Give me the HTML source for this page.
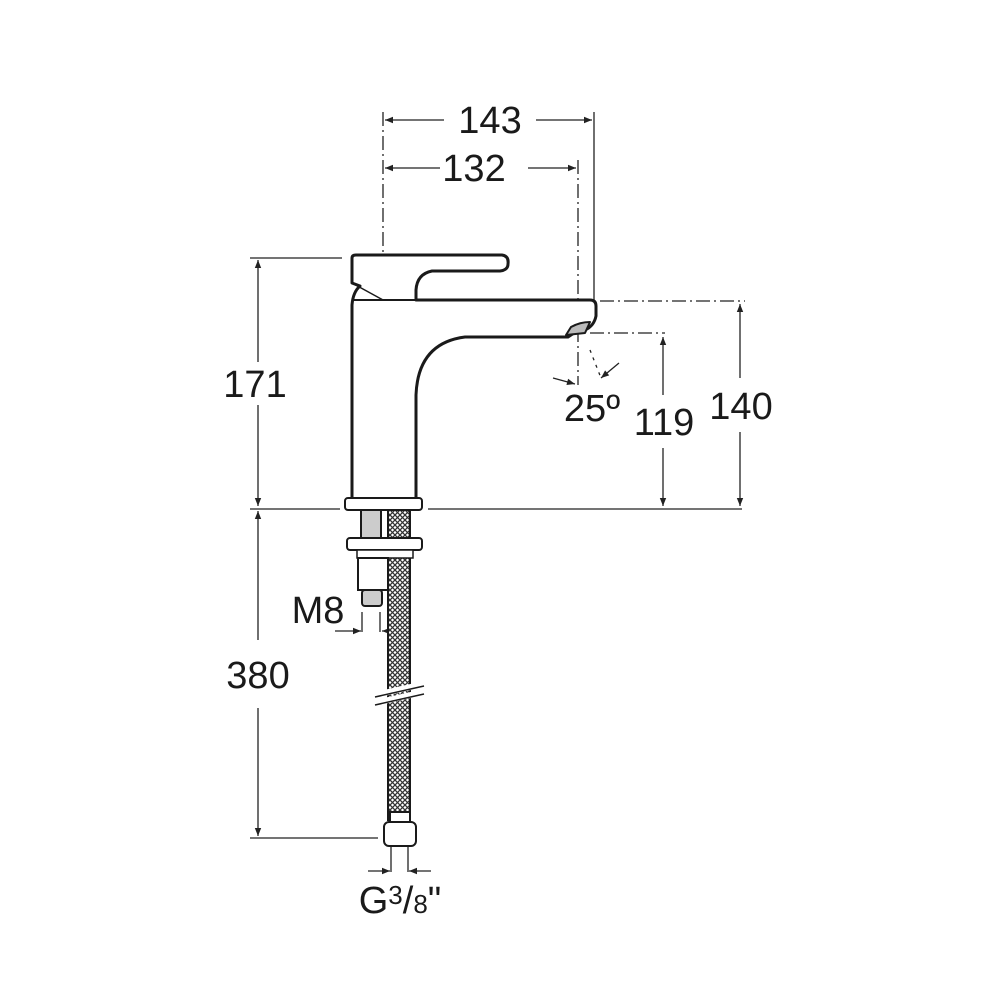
<!DOCTYPE html>
<html><head><meta charset="utf-8"><style>html,body{margin:0;padding:0;background:#fff}svg{display:block}</style></head>
<body>
<svg width="1000" height="1000" viewBox="0 0 1000 1000" xmlns="http://www.w3.org/2000/svg" font-family="Liberation Sans, sans-serif">
<defs>
<marker id="a" viewBox="0 0 10 10" refX="10" refY="5" markerWidth="12" markerHeight="8" markerUnits="userSpaceOnUse" orient="auto-start-reverse"><path d="M0,1 L10,5 L0,9 Z" fill="#222"/></marker>
<pattern id="mesh" width="5" height="5" patternUnits="userSpaceOnUse"><rect width="5" height="5" fill="#fff"/><path d="M0,0 L5,5 M5,0 L0,5" stroke="#333" stroke-width="1.3"/></pattern>
</defs>
<g stroke="#222" fill="none" stroke-width="1.3">
<line x1="383" y1="112" x2="383" y2="512" stroke-dasharray="14,4,2,4"/>
<line x1="594" y1="112" x2="594" y2="300"/>
<line x1="578" y1="160" x2="578" y2="385" stroke-dasharray="14,4,2,4"/>
<line x1="385" y1="120" x2="444" y2="120" marker-start="url(#a)"/>
<line x1="536" y1="120" x2="592" y2="120" marker-end="url(#a)"/>
<line x1="385" y1="168" x2="440" y2="168" marker-start="url(#a)"/>
<line x1="528" y1="168" x2="576" y2="168" marker-end="url(#a)"/>
<line x1="250" y1="258" x2="342" y2="258"/>
<line x1="258" y1="260" x2="258" y2="362" marker-start="url(#a)"/>
<line x1="258" y1="405" x2="258" y2="506" marker-end="url(#a)"/>
<line x1="250" y1="509" x2="340" y2="509"/>
<line x1="428" y1="509" x2="742" y2="509"/>
<line x1="258" y1="511" x2="258" y2="640" marker-start="url(#a)"/>
<line x1="258" y1="708" x2="258" y2="836" marker-end="url(#a)"/>
<line x1="250" y1="838" x2="378" y2="838"/>
<line x1="600" y1="301" x2="745" y2="301" stroke-dasharray="14,4,2,4"/>
<line x1="590" y1="333" x2="665" y2="333" stroke-dasharray="14,4,2,4"/>
<line x1="740" y1="304" x2="740" y2="378" marker-start="url(#a)"/>
<line x1="740" y1="432" x2="740" y2="506" marker-end="url(#a)"/>
<line x1="663" y1="337" x2="663" y2="395" marker-start="url(#a)"/>
<line x1="663" y1="448" x2="663" y2="506" marker-end="url(#a)"/>
<line x1="590" y1="350" x2="601" y2="378" stroke-dasharray="3,5"/>
<line x1="553" y1="378" x2="575" y2="384" marker-end="url(#a)"/>
<line x1="619" y1="363" x2="601" y2="378" marker-end="url(#a)"/>
<line x1="362" y1="612" x2="362" y2="632"/>
<line x1="380" y1="612" x2="380" y2="632"/>
<line x1="335" y1="631" x2="361" y2="631" marker-end="url(#a)"/>
<line x1="405" y1="631" x2="382" y2="631" marker-end="url(#a)"/>
<line x1="391" y1="846" x2="391" y2="872"/>
<line x1="408" y1="846" x2="408" y2="872"/>
<line x1="368" y1="871" x2="390" y2="871" marker-end="url(#a)"/>
<line x1="431" y1="871" x2="409" y2="871" marker-end="url(#a)"/>
</g>
<g stroke="#1a1a1a" fill="#fff" stroke-width="3" stroke-linejoin="round">
<path d="M352,500 L352,305 Q353,292 360,286 L352,283 L352,258 Q352,255 356,255 L502,255 Q509,256 508,264 Q508,270 500,271 L432,271 Q417,274 416,290 L416,300 L590,300 Q596,300 596,306 L596,316 Q594,326 585,330 L574,333 L568,337 L465,337 Q418,343 416,395 L416,500 Z"/>
<line x1="352" y1="283" x2="383" y2="300" stroke-width="1.5"/>
<line x1="352" y1="300" x2="416" y2="300" stroke-width="2"/>
<path d="M566,335 L571,327 Q580,322 590,322 L585,333 Z" stroke-width="2" fill="#bbb"/>
</g>
<g stroke="#1a1a1a" stroke-width="2">
<rect x="345" y="498" width="77" height="12" rx="3" fill="#fff"/>
<rect x="361" y="510" width="20" height="30" fill="#ccc"/>
<rect x="388" y="510" width="22" height="310" fill="url(#mesh)"/>
<rect x="381" y="510" width="7" height="30" fill="#fff"/>
<rect x="347" y="538" width="75" height="12" rx="3" fill="#fff"/>
<rect x="357" y="550" width="56" height="8" fill="#fff" stroke-width="1.5"/>
<rect x="358" y="558" width="30" height="32" fill="#fff"/>
<rect x="362" y="590" width="20" height="16" rx="3" fill="#ccc"/>
<rect x="390" y="812" width="20" height="10" fill="#fff"/>
<rect x="384" y="822" width="32" height="24" rx="5" fill="#fff"/>
<path d="M375,695 L424,684 M375,703 L424,692" stroke="#fff" stroke-width="6"/>
<path d="M375,697 L424,686 M375,705 L424,694" stroke-width="1.5"/>
</g>
<g fill="#1a1a1a" font-size="38" text-anchor="middle">
<text x="490" y="133">143</text>
<text x="474" y="181">132</text>
<text x="255" y="397">171</text>
<text x="258" y="688">380</text>
<text x="741" y="419">140</text>
<text x="664" y="435">119</text>
<text x="592" y="421">25º</text>
<text x="318" y="623">M8</text>
<text x="400" y="913">G<tspan font-size="26" dy="-9">3</tspan><tspan dy="9">/</tspan><tspan font-size="26">8</tspan>"</text>
</g>
</svg>
</body></html>
